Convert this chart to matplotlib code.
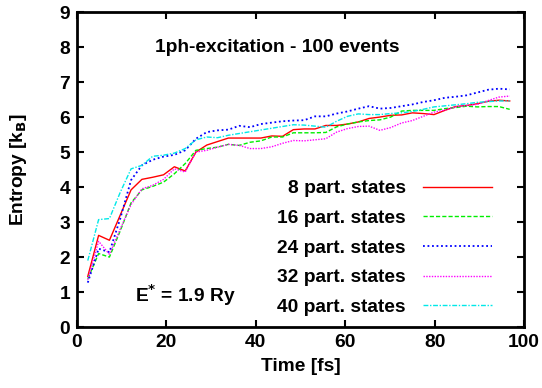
import matplotlib
matplotlib.use("Agg")
from matplotlib import pyplot as plt

plt.rcParams["font.family"] = ["Liberation Sans", "DejaVu Sans"]
plt.rcParams["font.weight"] = "bold"
plt.rcParams["font.size"] = 13.8

# time grid (fs), 100 a.u. steps
time_fs = [2.42, 4.84, 7.26, 9.68, 12.10, 14.52, 16.94, 19.36, 21.78, 24.20,
           26.61, 29.03, 31.45, 33.87, 36.29, 38.71, 41.13, 43.55, 45.97, 48.39,
           50.81, 53.23, 55.65, 58.07, 60.49, 62.91, 65.33, 67.75, 70.17, 72.59,
           75.00, 77.42, 79.84, 82.26, 84.68, 87.10, 89.52, 91.94, 94.36, 96.78]

s8 = [1.45, 2.62, 2.48, 3.20, 3.92, 4.22, 4.28, 4.35, 4.58, 4.46,
      5.00, 5.20, 5.30, 5.40, 5.40, 5.40, 5.40, 5.46, 5.45, 5.64,
      5.66, 5.66, 5.76, 5.76, 5.80, 5.86, 5.96, 6.00, 6.05, 6.06,
      6.12, 6.10, 6.07, 6.19, 6.30, 6.33, 6.38, 6.45, 6.48, 6.46]
s16 = [1.38, 2.10, 2.00, 2.75, 3.55, 3.92, 4.02, 4.14, 4.38, 4.67,
       5.05, 5.10, 5.14, 5.22, 5.19, 5.28, 5.32, 5.43, 5.43, 5.55,
       5.55, 5.55, 5.56, 5.72, 5.80, 5.86, 5.90, 5.92, 6.00, 6.17,
       6.19, 6.19, 6.19, 6.24, 6.27, 6.31, 6.29, 6.30, 6.30, 6.22]
s24 = [1.27, 2.24, 2.14, 3.10, 4.20, 4.62, 4.78, 4.87, 4.92, 5.05,
       5.38, 5.57, 5.62, 5.64, 5.75, 5.71, 5.80, 5.84, 5.88, 5.90,
       5.91, 6.02, 6.02, 6.10, 6.16, 6.24, 6.31, 6.24, 6.26, 6.31,
       6.36, 6.43, 6.48, 6.55, 6.58, 6.62, 6.70, 6.78, 6.81, 6.79]
s32 = [1.35, 2.45, 2.08, 2.80, 3.50, 3.95, 4.05, 4.22, 4.52, 4.43,
       5.00, 5.05, 5.14, 5.22, 5.19, 5.10, 5.10, 5.15, 5.25, 5.33,
       5.32, 5.35, 5.38, 5.57, 5.67, 5.73, 5.74, 5.62, 5.70, 5.83,
       5.90, 6.02, 6.14, 6.20, 6.29, 6.33, 6.36, 6.47, 6.57, 6.60]
s40 = [1.90, 3.07, 3.10, 3.85, 4.52, 4.62, 4.88, 4.91, 4.97, 5.10,
       5.35, 5.43, 5.41, 5.48, 5.53, 5.58, 5.63, 5.68, 5.73, 5.78,
       5.77, 5.74, 5.71, 5.88, 6.02, 6.09, 6.07, 6.07, 6.10, 6.12,
       6.16, 6.22, 6.29, 6.32, 6.35, 6.38, 6.42, 6.44, 6.46, 6.46]

labels = ["8 part. states", "16 part. states", "24 part. states",
          "32 part. states", "40 part. states"]

fig = plt.figure(figsize=(5.42, 3.88), dpi=100)
ax = fig.add_axes([0.142, 0.157, 0.825, 0.812])

ax.plot(time_fs, s8, color="#ff0000", lw=1.0, ls="-", label=labels[0])
ax.plot(time_fs, s16, color="#00ee00", lw=1.0, ls=(0, (3, 1.5)), label=labels[1])
ax.plot(time_fs, s24, color="#0000ff", lw=1.3, ls=(0, (1, 1.5)), label=labels[2])
ax.plot(time_fs, s32, color="#ff00ff", lw=1.0, ls=(0, (1, 1)), label=labels[3])
ax.plot(time_fs, s40, color="#00e8e8", lw=1.0, ls=(0, (3.5, 1.2, 1, 1.2)), label=labels[4])

ax.set_xlim(0, 100)
ax.set_ylim(0, 9)
ax.set_xticks([0, 20, 40, 60, 80, 100])
ax.set_yticks(range(10))
ax.tick_params(direction="in", top=True, right=True, length=5, width=1.5, pad=5)
for sp in ax.spines.values():
    sp.set_linewidth(2)

ax.set_xlabel("Time [fs]", fontweight="bold", labelpad=5)
ax.set_ylabel("Entropy [k$_\\mathbf{B}$]", fontweight="bold", labelpad=22)

ax.text(44.8, 8.0, "1ph-excitation - 100 events", ha="center", va="center",
        fontweight="bold")
ax.text(13, 0.71, "E$^{*}$ = 1.9 Ry", ha="left", va="baseline", fontweight="bold")

leg = ax.legend(loc="lower right", bbox_to_anchor=(0.928, 0.035), frameon=False,
                markerfirst=False, handlelength=3.6, handletextpad=0.9,
                labelspacing=0.64, borderpad=0, borderaxespad=0)

fig.savefig("out.png", dpi=100)
